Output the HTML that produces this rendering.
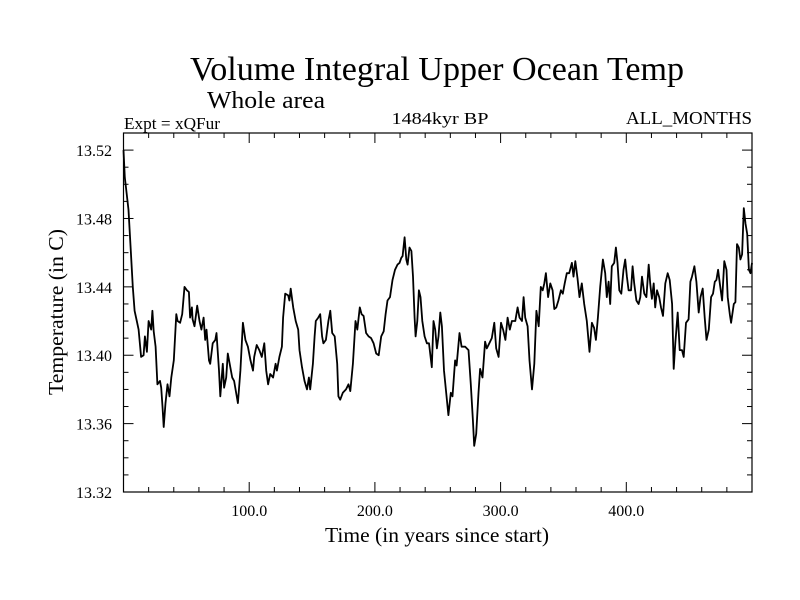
<!DOCTYPE html>
<html><head><meta charset="utf-8"><style>
html,body{margin:0;padding:0;background:#fff;}
svg{display:block;font-family:"Liberation Serif",serif;}
</style></head><body>
<svg id="chart" width="800" height="600" viewBox="0 0 800 600">
<text x="437" y="80" font-size="34" text-anchor="middle" textLength="494" lengthAdjust="spacingAndGlyphs">Volume Integral Upper Ocean Temp</text>
<text x="207" y="108" font-size="24" textLength="118" lengthAdjust="spacingAndGlyphs">Whole area</text>
<text x="124" y="129" font-size="17" textLength="96" lengthAdjust="spacingAndGlyphs">Expt = xQFur</text>
<text x="440" y="124" font-size="17" text-anchor="middle" textLength="97" lengthAdjust="spacingAndGlyphs">1484kyr BP</text>
<text x="752" y="124" font-size="18" text-anchor="end" textLength="126" lengthAdjust="spacingAndGlyphs">ALL_MONTHS</text>
<text x="437" y="542" font-size="21" text-anchor="middle" textLength="224" lengthAdjust="spacingAndGlyphs">Time (in years since start)</text>
<text x="0" y="0" font-size="21" text-anchor="middle" transform="translate(63,312) rotate(-90)" textLength="166" lengthAdjust="spacingAndGlyphs">Temperature (in C)</text>
<g id="axes"></g>
<g id="plot"></g>
</svg>
<script>
const years = [0,1,2,4,6,7.4,8.8,10.6,12,14,16,17,18.6,20,22,23,24,25.5,27,29,30,31,32,33.4,35,36.6,38,40,42,43,45,46.7,48.5,50.4,52,53,54.4,55,56.5,58.6,60.5,62,63.7,65,66,68,69,71,73,74,76,77,79,80,81.7,83,85,86.5,88,91,93,95,97,99,101,103,104,106,108,110,112,113.5,115,116.7,119,121,122,124,126,127,128.6,131,132,133,135,137,139,140,142,144,146,147.5,148.5,150.7,152,153,155,156.5,158,159,161,163,164.5,166,168,170,171,172.4,174.5,177,179,180.4,182.5,184.6,186,188,189.4,191,193,195,197,199,201,203,205,207,208.5,210,212,214,216,218,219.6,221,222,223.6,225,226,227.5,229,230.3,231.6,232.4,233.7,235,236.3,237.7,239.5,241.4,243,245.3,246.6,248,249.3,250.6,252,253.3,255,256.7,258.5,260.4,261.7,263.8,265,267.3,269,271.8,274.5,276.3,278,279,280.6,282.4,283.7,285.6,287.7,289,291,293,295,296.5,298.4,300.3,302,303.8,305.6,307.3,309,311.7,313.5,315,317,318.3,319.6,321.5,323,325,326.8,328.5,330.3,332,333.5,334.8,336,337.8,339.5,341.4,342.7,344.3,346,348,349.5,351,352.7,354.6,356.7,358,359.4,361.2,362.8,364.6,366.5,368.6,370.7,372.6,374.4,375.8,377.4,379.2,381.4,383.2,384.5,385.9,387.2,388.5,390.4,391.7,393,394.4,396,397.8,399.1,400.5,401.8,403.7,405,406.3,408,409.8,411.1,412.5,414.3,416,417.8,419,420.4,421.8,423,424.4,426.2,427.6,429.2,431,432.9,434.5,436.4,437.7,439,440.9,442.5,444.3,445.7,447.5,449.6,451,452.3,454.2,455.8,457.6,459,460.8,462.4,463.8,465.6,467.5,469,470.4,471.7,473,474.4,476.2,478,479.7,480.7,482.3,483.4,485.5,486.8,488.1,489.5,490.8,492.1,493.5,494.8,496.2,497.5,498.8,500];
const temps = [13.52,13.504,13.498,13.485,13.459,13.44,13.426,13.42,13.415,13.399,13.40,13.411,13.402,13.42,13.415,13.426,13.414,13.405,13.383,13.385,13.381,13.37,13.358,13.372,13.383,13.376,13.387,13.397,13.424,13.42,13.419,13.424,13.44,13.438,13.437,13.422,13.428,13.421,13.417,13.429,13.42,13.415,13.422,13.409,13.415,13.397,13.395,13.407,13.409,13.413,13.391,13.376,13.395,13.381,13.387,13.401,13.393,13.387,13.385,13.372,13.391,13.419,13.409,13.405,13.397,13.391,13.399,13.406,13.403,13.399,13.407,13.391,13.383,13.389,13.387,13.395,13.391,13.399,13.405,13.422,13.436,13.435,13.432,13.439,13.428,13.42,13.415,13.403,13.393,13.385,13.38,13.387,13.38,13.395,13.411,13.42,13.422,13.424,13.411,13.407,13.409,13.42,13.426,13.413,13.411,13.395,13.376,13.374,13.378,13.38,13.383,13.379,13.395,13.42,13.415,13.428,13.424,13.423,13.413,13.411,13.41,13.407,13.401,13.40,13.411,13.414,13.424,13.432,13.434,13.444,13.45,13.453,13.454,13.457,13.458,13.469,13.456,13.453,13.463,13.461,13.446,13.422,13.411,13.42,13.438,13.434,13.42,13.411,13.407,13.407,13.393,13.42,13.415,13.404,13.411,13.425,13.417,13.391,13.378,13.365,13.378,13.376,13.397,13.394,13.413,13.405,13.405,13.403,13.383,13.362,13.347,13.354,13.378,13.392,13.387,13.408,13.404,13.407,13.41,13.419,13.404,13.399,13.419,13.415,13.409,13.422,13.415,13.42,13.42,13.428,13.422,13.42,13.434,13.422,13.417,13.397,13.38,13.395,13.426,13.417,13.44,13.438,13.442,13.448,13.434,13.442,13.438,13.427,13.428,13.432,13.438,13.436,13.442,13.448,13.448,13.454,13.446,13.455,13.445,13.434,13.442,13.43,13.42,13.402,13.419,13.416,13.409,13.422,13.44,13.456,13.448,13.434,13.443,13.43,13.452,13.454,13.463,13.454,13.438,13.436,13.45,13.456,13.446,13.438,13.438,13.452,13.442,13.432,13.43,13.434,13.446,13.436,13.434,13.453,13.442,13.433,13.442,13.428,13.438,13.434,13.428,13.423,13.442,13.448,13.444,13.43,13.392,13.407,13.425,13.403,13.403,13.399,13.419,13.421,13.443,13.446,13.452,13.443,13.425,13.434,13.439,13.422,13.409,13.415,13.434,13.436,13.443,13.444,13.45,13.442,13.432,13.455,13.45,13.434,13.424,13.419,13.43,13.431,13.465,13.463,13.456,13.459,13.486,13.477,13.471,13.45,13.448,13.454];
const xTickLabels = ["100.0","200.0","300.0","400.0"];
const xTickValues = [100,200,300,400];
const yTickLabels = ["13.32","13.36","13.40","13.44","13.48","13.52"];
const yTickValues = [13.32,13.36,13.40,13.44,13.48,13.52];

const L=123.5,R=752,T=133,B=492;
const X0=0,X1=500,Y0=13.32,Y1=13.53;
function xs(v){return L+(v-X0)/(X1-X0)*(R-L);}
function ys(v){return B-(v-Y0)/(Y1-Y0)*(B-T);}
const NS="http://www.w3.org/2000/svg";
const axes=document.getElementById('axes');
const plot=document.getElementById('plot');
function mk(tag,attrs,parent){const e=document.createElementNS(NS,tag);for(const k in attrs)e.setAttribute(k,attrs[k]);parent.appendChild(e);return e;}

const frame=mk('rect',{x:L,y:T,width:R-L,height:B-T,fill:'none',stroke:'#000','stroke-width':1.2},axes);



for(let v=20;v<X1;v+=20){
  const major=(v%100===0);
  const len=major?10:5;
  const x=xs(v);
  const t1=mk('line',{x1:x,y1:B,x2:x,y2:B-len,stroke:'#000','stroke-width':1},axes);
  
  
  const t2=mk('line',{x1:x,y1:T,x2:x,y2:T+len,stroke:'#000','stroke-width':1},axes);
  
  
}
xTickValues.forEach((v,i)=>{
  const t=mk('text',{x:xs(v),y:516,'font-size':16,'text-anchor':'middle'},axes);
  t.textContent=xTickLabels[i];
  
  
});
for(let k=0;k<=21;k++){
  const v=Y0+k*0.01;
  const major=(k%4===0);
  const len=major?10:5;
  const y=ys(v);
  const t1=mk('line',{x1:L,y1:y,x2:L+len,y2:y,stroke:'#000','stroke-width':1},axes);
  
  
  const t2=mk('line',{x1:R,y1:y,x2:R-len,y2:y,stroke:'#000','stroke-width':1},axes);
  
  
}
yTickValues.forEach((v,i)=>{
  const t=mk('text',{x:112,y:ys(v)+6,'font-size':16,'text-anchor':'end'},axes);
  t.textContent=yTickLabels[i];
  
  
});
let d='';
years.forEach((v,i)=>{d+=(i?'L':'M')+xs(v).toFixed(1)+','+ys(temps[i]).toFixed(1);});
const line=mk('path',{d:d,fill:'none',stroke:'#000','stroke-width':1.8,'stroke-linejoin':'round'},plot);


</script>
</body></html>
